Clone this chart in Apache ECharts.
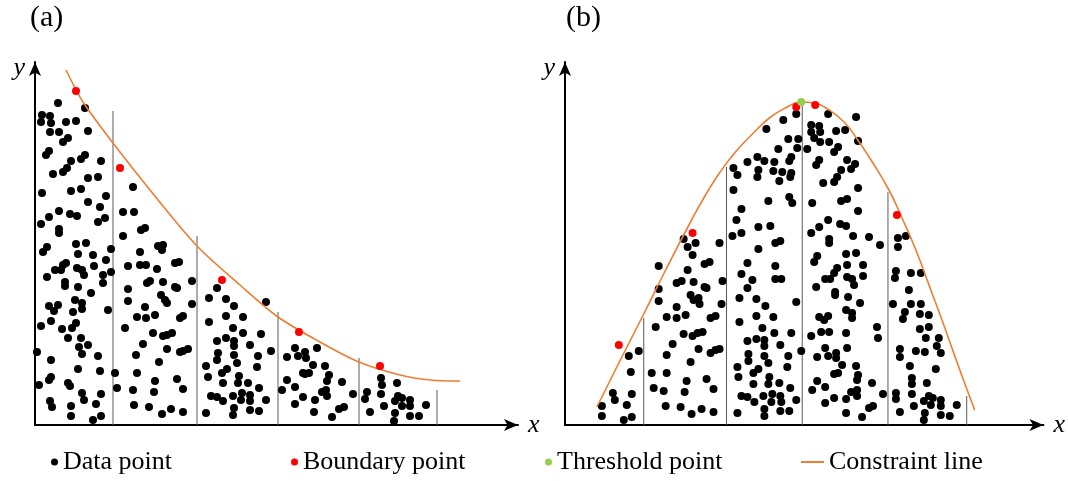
<!DOCTYPE html>
<html>
<head>
<meta charset="utf-8">
<script src="https://cdn.jsdelivr.net/npm/echarts@6/dist/echarts.min.js"></script>
<style>
  html, body { margin: 0; padding: 0; background: #fff; }
  #chart { width: 1068px; height: 481px; }
</style>
</head>
<body>
<div id="chart"></div>
<script>
// panel (a): decreasing constraint
var dataA = [
  [23,322],[50,317],[7,310],[15,309],[6,303],[16,302],[31,303],[41,304],[53,294],[15,293],[24,293],[33,287],[28,283],[14,274],[11,270],[50,270],[46,266],[36,264],[66,264],[32,257],[28,253],[18,251],[53,247],[63,248],[98,238],[7,232],[36,234],[46,236],[71,229],[53,223],[65,218],[24,214],[14,208],[35,211],[42,209],[70,207],[63,203],[6,201],[24,196],[24,192],[88,213],[99,213],[106,195],[110,197],[88,189],[12,178],[8,173],[41,181],[43,171],[51,182],[76,176],[105,173],[123,179],[128,180],[127,175],
  [58,170],[71,165],[31,162],[28,160],[20,155],[26,155],[42,157],[47,155],[59,159],[12,148],[49,150],[68,150],[76,153],[30,143],[30,139],[43,138],[68,142],[56,132],[40,125],[47,122],[14,119],[23,120],[19,114],[47,116],[38,113],[73,115],[41,102],[37,97],[6,99],[16,104],[27,96],[33,87],[46,87],[44,78],[53,80],[2,73],[47,71],[63,69],[16,65],[43,56],[65,54],[16,48],[14,45],[4,40],[33,42],[35,39],[47,32],[49,25],[66,31],[15,24],[17,18],[36,19],[61,21],[36,9],[58,5],[66,9],
  [93,159],[105,160],[111,160],[122,156],[128,143],[112,142],[115,144],[93,136],[93,124],[126,130],[130,125],[132,122],[110,118],[120,110],[102,108],[111,107],[90,97],[118,92],[128,89],[132,90],[108,81],[132,76],[101,70],[124,63],[80,52],[102,52],[120,44],[82,37],[98,35],[119,33],[99,20],[114,18],[127,11],
  [144,163],[140,162],[157,144],[140,138],[142,137],[157,121],[148,109],[145,107],[137,92],[153,76],[148,74],[145,73],[142,46],[148,36],[136,16],[148,13],
  [182,137],[174,127],[191,126],[199,119],[191,109],[208,108],[174,103],[198,97],[208,92],[226,91],[191,87],[182,84],[199,84],[199,79],[215,80],[236,74],[183,72],[199,70],[223,69],[182,65],[202,62],[171,59],[222,58],[192,56],[187,52],[173,48],[204,49],[188,42],[203,42],[213,42],[224,37],[176,29],[182,28],[198,29],[207,32],[215,30],[206,25],[215,24],[188,24],[231,25],[199,17],[198,10],[171,12],[215,15],[224,14],[231,123],
  [260,77],[252,68],[263,69],[268,52],[252,45],[260,38],[247,35],[268,28],[260,21],[270,73],[271,67],[282,77],[278,60],[290,59],[274,52],[270,51],[294,50],[292,44],[307,43],[287,33],[291,35],[292,29],[280,25],[318,31],[279,13],[297,8],[304,16],[309,18],
  [346,47],[347,40],[362,42],[332,33],[330,26],[346,31],[363,29],[367,27],[375,25],[375,19],[360,24],[367,19],[349,19],[391,20],[335,13],[360,12],[375,9],[384,9],[359,4]
];
var boundaryA = [[41,334],[85,257],[187,145],[264,93],[345,59]];
var constraintA = [[31,355],[48,323],[78,282],[115,235],[162,179],[205,140],[243,108],[285,83],[324,63],[365,50],[395,45],[425,44]];
var dividerXA = [78,162,243,324,402];
var dividerTopA = [314,189,113,67,35];

// panel (b): peaked constraint
var dataB = [
  [37,19],[37,9],[48,32],[50,25],[67,31],[62,20],[67,8],[59,5],[64,69],[74,74],[66,53],
  [94,159],[94,136],[94,124],[91,98],[102,108],[112,107],[112,118],[121,110],[112,142],[117,144],[123,155],[129,143],[119,186],[123,178],[131,182],[128,170],[155,182],[140,161],[145,163],[140,138],[142,137],[126,130],[129,125],[134,127],[135,121],[158,144],[157,121],[146,107],[151,109],[119,91],[128,89],[133,92],[138,93],[108,81],[102,70],[134,76],[146,72],[151,75],[155,76],[126,63],[87,52],[102,52],[122,44],[142,46],[89,37],[99,34],[120,33],[149,36],[101,19],[116,18],[127,11],[137,16],[149,13],
  [232,311],[219,305],[202,296],[224,286],[234,286],[233,277],[214,276],[227,268],[225,264],[193,268],[183,263],[200,264],[210,263],[169,257],[173,250],[194,255],[193,248],[209,254],[218,253],[227,252],[226,248],[215,244],[169,235],[204,224],[225,228],[228,222],[177,216],[172,205],[168,189],[177,192],[194,198],[206,199],[211,182],[216,184],[194,176],[183,162],[211,159],[177,151],[188,145],[211,146],[217,146],[183,137],[175,127],[192,126],[201,119],[232,123],[192,109],[209,108],[175,103],[198,97],[210,92],[227,92],[183,84],[192,86],[200,85],[200,79],[216,80],[237,74],[184,71],[184,64],[200,69],[224,69],[204,62],[173,58],[194,56],[189,52],[223,58],[174,48],[205,48],[189,41],[204,41],[215,42],[226,37],[177,29],[183,28],[190,23],[199,29],[208,31],[207,23],[216,29],[217,23],[232,25],[173,12],[200,16],[200,9],[216,14],[225,14],
  [243,276],[264,311],[247,300],[255,299],[247,293],[256,293],[250,287],[272,294],[281,295],[256,283],[265,283],[274,278],[270,273],[255,265],[252,260],[277,255],[273,248],[270,243],[259,242],[283,265],[248,222],[277,224],[283,226],[264,205],[255,198],[276,201],[282,199],[247,192],[265,186],[265,182],[253,169],[282,171],
  [292,308],[294,284],[291,261],[287,256],[294,237],[294,214],[289,189],[305,188],[316,180],[292,172],[283,160],[299,160],[283,148],[288,146],[290,140],[299,149],[284,128],[296,122],[282,115],[288,112],[288,107],[313,98],[314,87],[282,92],[283,77],[292,59],[294,50],[293,45],[308,42],[287,33],[293,35],[293,29],[319,31],[282,26],[309,19],[305,17],[298,8],[282,12],
  [250,163],[252,138],[261,146],[266,146],[271,133],[271,130],[273,157],[270,152],[255,108],[260,105],[264,109],[257,93],[265,93],[247,89],[261,77],[253,68],[264,69],[272,72],[272,67],[278,60],[270,51],[274,52],[253,44],[261,38],[248,35],[270,27],[261,22],
  [334,187],[342,189],[334,178],[332,154],[331,147],[347,152],[357,152],[345,135],[329,121],[347,121],[357,121],[341,113],[339,106],[356,111],[365,110],[356,96],[365,98],[362,87],[375,87],[373,79],[377,72],[336,76],[336,68],[352,74],[361,73],[346,59],[372,56],[348,47],[348,41],[363,42],[332,32],[332,26],[348,31],[365,29],[369,27],[360,24],[377,25],[377,19],[367,20],[393,20],[350,19],[336,13],[361,12],[360,5],[377,10],[386,9]
];
var boundaryB = [[54,80],[128,192],[232,318],[251,320],[333,210]];
var thresholdB = [[237,323]];
var constraintB = [[32,18],[55,64],[78,109],[102,157],[127,205],[141,230],[155,252],[171,273],[188,291],[205,307],[221,317],[237,323],[250,322],[265,315],[280,303],[293,286],[307,265],[325,235],[339,205],[352,175],[367,135],[380,100],[395,58],[411,15]];
var dividerXB = [79,162,238,324,403];
var dividerTopB = [107,258,322,233,29];

var serif = 'Liberation Serif';
var myChart = echarts.init(document.getElementById('chart'));

function axisX(i, max) {
  return {
    type: 'value', gridIndex: i, min: 0, max: max,
    name: 'x', nameLocation: 'end', nameGap: 10,
    nameTextStyle: { fontFamily: serif, fontStyle: 'italic', fontSize: 26, color: '#000' },
    axisLine: { show: true, symbol: ['none', 'arrow'], symbolSize: [9, 14], lineStyle: { color: '#000', width: 2 } },
    axisTick: { show: false }, axisLabel: { show: false }, splitLine: { show: false }
  };
}
function axisY(i, max) {
  return {
    type: 'value', gridIndex: i, min: 0, max: max,
    name: 'y', nameLocation: 'end', nameGap: -19,
    nameTextStyle: { fontFamily: serif, fontStyle: 'italic', fontSize: 26, color: '#000',
      align: 'right', verticalAlign: 'bottom', padding: [0, 10, 0, 0] },
    axisLine: { show: true, symbol: ['none', 'arrow'], symbolSize: [9, 14], lineStyle: { color: '#000', width: 2 } },
    axisTick: { show: false }, axisLabel: { show: false }, splitLine: { show: false }
  };
}

function dividers(i, xs, tops) {
  return xs.map(function (x, k) {
    return {
      type: 'line', xAxisIndex: i, yAxisIndex: i, silent: true, symbol: 'none', z: 1,
      lineStyle: { color: '#5a5a5a', width: 1 },
      data: [[x, 0], [x, tops[k]]]
    };
  });
}

function dots(name, i, data, color, z) {
  return {
    name: name, type: 'scatter', xAxisIndex: i, yAxisIndex: i, z: z,
    symbol: 'circle', symbolSize: 8, itemStyle: { color: color, opacity: 1 },
    data: data
  };
}

function curve(i, data, s) {
  return {
    name: 'Constraint line', type: 'line', xAxisIndex: i, yAxisIndex: i, z: 3,
    symbol: 'none', smooth: s,
    lineStyle: { color: '#ED7D31', width: 1.6 }, itemStyle: { color: '#ED7D31' },
    data: data
  };
}

var series = []
  .concat(dividers(0, dividerXA, dividerTopA))
  .concat(dividers(1, dividerXB, dividerTopB))
  .concat([
    dots('Data point', 0, dataA, '#000', 2),
    dots('Data point', 1, dataB, '#000', 2),
    curve(0, constraintA, 0.3),
    curve(1, constraintB, 0.5),
    dots('Boundary point', 0, boundaryA, '#FF0000', 4),
    dots('Boundary point', 1, boundaryB, '#FF0000', 4),
    dots('Threshold point', 1, thresholdB, '#92D050', 5)
  ]);

var legendText = { fontFamily: serif, fontSize: 26, color: '#000' };
function leg(name, left, w, h) {
  return { data: [name], left: left, top: 449, padding: 0, itemWidth: w, itemHeight: h,
           textStyle: legendText, selectedMode: false };
}

var option = {
  animation: false,
  title: [
    { text: '(a)', left: 30, top: 3, padding: 0, textStyle: { fontFamily: serif, fontSize: 30, fontWeight: 'normal', color: '#000' } },
    { text: '(b)', left: 566, top: 3, padding: 0, textStyle: { fontFamily: serif, fontSize: 30, fontWeight: 'normal', color: '#000' } }
  ],
  legend: [
    leg('Data point', 51, 7, 7),
    leg('Boundary point', 291, 7, 7),
    leg('Threshold point', 545, 7, 7),
    leg('Constraint line', 800, 23, 2)
  ],
  grid: [
    { left: 35, top: 62, width: 483, height: 363 },
    { left: 565, top: 62, width: 480, height: 363 }
  ],
  xAxis: [axisX(0, 483), axisX(1, 480)],
  yAxis: [axisY(0, 363), axisY(1, 363)],
  series: series
};
myChart.setOption(option);
</script>
</body>
</html>
